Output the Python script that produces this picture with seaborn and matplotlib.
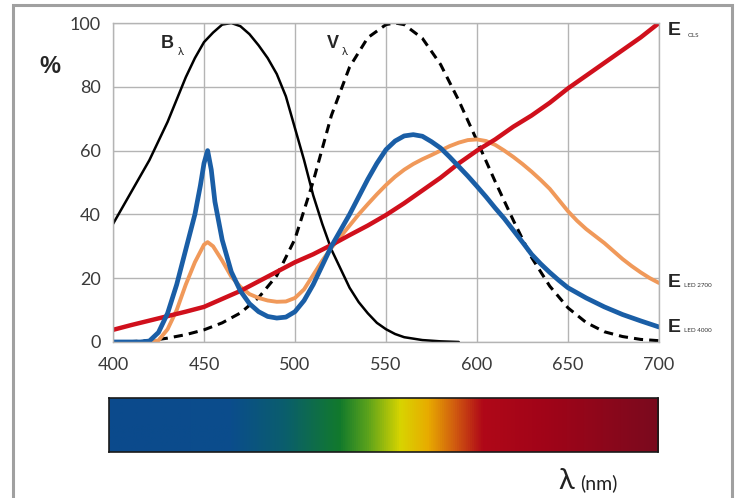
import numpy as np
import pandas as pd
import matplotlib
matplotlib.use("Agg")
import matplotlib.pyplot as plt
import seaborn as sns
from matplotlib.colors import LinearSegmentedColormap
from matplotlib.patches import Rectangle

# ------------------ data ------------------
wl_b = [400, 405, 410, 415, 420, 425, 430, 435, 440, 445, 450, 455, 460, 465, 470, 475,
        480, 485, 490, 495, 500, 505, 510, 515, 520, 525, 530, 535, 540, 545, 550, 555,
        560, 570, 580, 590]
b_lambda = [37, 42, 47, 52, 57, 63, 69, 76, 83, 89, 94, 97, 99.5, 100, 99, 96.5,
            93, 89, 84, 77, 67, 57, 46, 37, 29, 23, 17, 12.5, 9, 6, 4, 2.5,
            1.5, 0.6, 0.2, 0]

wl_v = [400, 410, 420, 430, 440, 450, 460, 470, 480, 490, 500, 510, 520, 530, 540, 550,
        555, 560, 570, 580, 590, 600, 610, 620, 630, 640, 650, 660, 670, 680, 690, 700]
v_lambda = [0.04, 0.12, 0.4, 1.2, 2.3, 3.8, 6.0, 9.1, 13.9, 20.8, 32.3, 50.3, 71.0, 86.2,
            95.4, 99.5, 100, 99.5, 95.2, 87.0, 75.7, 63.1, 50.3, 38.1, 26.5, 17.5, 10.7,
            6.1, 3.2, 1.7, 0.8, 0.4]

wl_ols = [400, 410, 420, 430, 440, 450, 460, 470, 480, 490, 500, 510, 520, 530, 540, 550,
          560, 570, 580, 590, 600, 610, 620, 630, 640, 650, 660, 670, 680, 690, 700]
e_ols = [3.8, 5.3, 6.7, 8.1, 9.5, 11, 13.5, 16, 19, 22, 25, 27.5, 30.4, 33.5, 36.5, 39.8,
         43.5, 47.5, 51.5, 56, 60, 63.5, 67.5, 71, 75, 79.5, 83.5, 87.5, 91.5, 95.5, 100]

wl_4000 = [400, 410, 415, 420, 425, 430, 435, 440, 445, 448, 450, 452, 454, 456, 460, 465,
           470, 475, 480, 485, 490, 495, 500, 505, 510, 515, 520, 525, 530, 535, 540, 545,
           550, 555, 560, 565, 570, 575, 580, 585, 590, 595, 600, 605, 610, 615, 620, 625,
           630, 635, 640, 645, 650, 660, 670, 680, 690, 700]
e_4000 = [0, 0, 0, 0.3, 3, 9, 18, 29, 40, 49, 56, 60, 54, 44, 32, 22,
          16, 12, 9.5, 8, 7.5, 7.8, 9.5, 13, 18, 24, 30, 35, 40, 45.5, 51, 56,
          60.3, 63, 64.6, 65, 64.5, 62.8, 60.8, 58, 55, 52, 48.8, 45.5, 42, 38.7, 35, 31.3,
          27.5, 24.5, 21.8, 19.3, 17, 13.8, 11, 8.6, 6.6, 4.7]

wl_2700 = [400, 420, 425, 430, 435, 440, 445, 450, 452, 455, 460, 465, 470, 475, 480, 485,
           490, 495, 500, 505, 510, 515, 520, 525, 530, 535, 540, 545, 550, 555, 560, 565,
           570, 575, 580, 585, 590, 595, 600, 605, 610, 615, 620, 625, 630, 635, 640, 645,
           650, 655, 660, 665, 670, 675, 680, 685, 690, 695, 700]
e_2700 = [0, 0, 0.5, 4, 10, 18, 25, 30.5, 31.3, 30, 25.5, 20.5, 17.3, 15, 13.8, 13,
          12.6, 12.7, 13.8, 16.5, 21, 25.5, 29.5, 33, 36.5, 40, 43.2, 46.3, 49.2, 51.8, 54, 55.8,
          57.3, 58.6, 60, 61.4, 62.5, 63.3, 63.5, 63, 61.8, 60, 58, 55.8, 53.4, 50.8, 48, 44.5,
          41, 38, 35.4, 33.2, 31, 28.5, 26, 23.8, 21.8, 20, 18.5]

x_ticks = [400, 450, 500, 550, 600, 650, 700]
y_ticks = [0, 20, 40, 60, 80, 100]

# spectrum bar colour stops (position along bar, colour)
spec_pos = [0.0, 0.22, 0.32, 0.42, 0.47, 0.53, 0.58, 0.63, 0.68, 0.80, 1.0]
spec_col = ["#0b4a8c", "#0b4d8c", "#0a5e6c", "#127a2c", "#5aa21c", "#d8d400",
            "#e8ac00", "#d05a10", "#b00818", "#a00418", "#7a0a1e"]

# ------------------ figure ------------------
sns.set_style("white")
plt.rcParams['font.family'] = ['Lato', 'DejaVu Sans']
bold_font = ['Liberation Sans', 'DejaVu Sans']

fig = plt.figure(figsize=(7.39, 4.98), dpi=100)
ax = fig.add_axes([0.1529, 0.3133, 0.7388, 0.6405])

grid_c = "#b4b4b4"
sns.lineplot(x=wl_b, y=b_lambda, ax=ax, color="black", lw=1.8)
sns.lineplot(x=wl_v, y=v_lambda, ax=ax, color="black", lw=2.2, linestyle=(0, (3, 2)))
sns.lineplot(x=wl_2700, y=e_2700, ax=ax, color="#f0995a", lw=2.8)
sns.lineplot(x=wl_ols, y=e_ols, ax=ax, color="#d0101c", lw=3.2)
sns.lineplot(x=wl_4000, y=e_4000, ax=ax, color="#1a5ea6", lw=3.4)

ax.set_xlim(400, 700)
ax.set_ylim(0, 100)
ax.set_xticks(x_ticks)
ax.set_yticks(y_ticks)
ax.grid(True, color=grid_c, lw=1)
ax.set_axisbelow(True)
for s in ax.spines.values():
    s.set_color(grid_c)
    s.set_linewidth(1)
ax.tick_params(axis="both", which="both", direction="out", length=5, color=grid_c,
               labelsize=13, labelcolor="#3a3a3a", width=1)
ax.tick_params(axis="x", pad=6)
ax.tick_params(axis="y", pad=4)
ax.set_xlabel("")
ax.set_ylabel("")

# curve labels
fig.text(0.068, 0.866, "%", fontsize=17, fontweight="bold", family=bold_font,
         ha="center", va="center")
fig.text(0.217, 0.912, "B", fontsize=13, fontweight="bold", family=bold_font,
         ha="left", va="center")
fig.text(0.240, 0.896, "λ", fontsize=8, ha="left", va="center")
fig.text(0.442, 0.912, "V", fontsize=13, fontweight="bold", family=bold_font,
         ha="left", va="center")
fig.text(0.463, 0.896, "λ", fontsize=8, ha="left", va="center")

fig.text(0.904, 0.938, "E", fontsize=14, fontweight="bold", family=bold_font,
         ha="left", va="center")
fig.text(0.931, 0.928, "OLS", fontsize=4.5, ha="left", va="center", color="#333333")
fig.text(0.904, 0.432, "E", fontsize=14, fontweight="bold", family=bold_font,
         ha="left", va="center")
fig.text(0.926, 0.426, "LED 2700", fontsize=4.5, ha="left", va="center", color="#333333")
fig.text(0.904, 0.342, "E", fontsize=14, fontweight="bold", family=bold_font,
         ha="left", va="center")
fig.text(0.926, 0.336, "LED 4000", fontsize=4.5, ha="left", va="center", color="#333333")

# ------------------ spectrum bar ------------------
cax = fig.add_axes([0.1475, 0.0924, 0.7429, 0.1084])
cmap = LinearSegmentedColormap.from_list("spec", list(zip(spec_pos, spec_col)))
grad = np.linspace(0, 1, 512).reshape(1, -1)
cax.imshow(grad, aspect="auto", cmap=cmap, extent=[0, 1, 0, 1])
cax.set_xticks([])
cax.set_yticks([])
for s in cax.spines.values():
    s.set_color("#1a1a1a")
    s.set_linewidth(1.2)

fig.text(0.755, 0.034, "λ", fontsize=21, ha="left", va="center", color="#222222")
fig.text(0.785, 0.030, "(nm)", fontsize=14, ha="left", va="center", color="#222222")

# outer frame
fig.patches.append(Rectangle((0.0176, -0.05), 0.973, 1.04, transform=fig.transFigure,
                             fill=False, edgecolor="#a0a0a0", lw=2.2))

fig.savefig("out.png", dpi=100)
